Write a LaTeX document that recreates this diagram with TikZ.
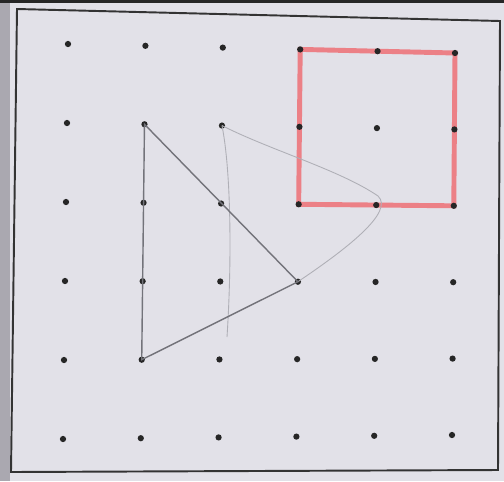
\documentclass[tikz,border=0pt]{standalone}
\usetikzlibrary{calc}
\definecolor{paper}{RGB}{226,225,232}
\definecolor{edge}{RGB}{170,168,176}
\definecolor{marker}{RGB}{236,128,134}
\definecolor{pencil}{RGB}{115,115,122}
\definecolor{faint}{RGB}{175,175,182}

\begin{document}
\begin{tikzpicture}[
    x=0.02cm, y=-0.02cm,
    dot/.style={circle, fill=black!85, inner sep=0pt, minimum size=1.25mm},
    frame/.style={draw=black!80, line width=1.1pt},
    redline/.style={draw=marker, line width=2.8pt, line join=miter},
    pencilline/.style={draw=pencil, line width=0.8pt},
    faintline/.style={draw=faint, line width=0.5pt}
]
\useasboundingbox (0,0) rectangle (504,481);
\fill[paper] (0,0) rectangle (504,481);
\fill[edge] (0,0) rectangle (10,481);
\fill[black!85] (0,0) rectangle (504,3);

% sheet border
\coordinate (f1) at (17,9);
\coordinate (f2) at (500,21);
\coordinate (f3) at (498,470);
\coordinate (f4) at (11,472);
\draw[frame] (f1) -- (f2) -- (f3) -- (f4) -- cycle;

% corner dots of the grid
\coordinate (TL) at (68,44);
\coordinate (TR) at (455,53);
\coordinate (BL) at (63,439);
\coordinate (BR) at (452,435);

% red square
\draw[redline] ($(TL)!3/5!(TR)$) -- (TR) -- ($(TR)!2/5!(BR)$)
    -- ($($(TL)!3/5!(TR)$)!2/5!($(BL)!3/5!(BR)$)$) -- cycle;

\foreach \i in {0,...,5} {
  \foreach \j in {0,...,5} {
    \node[dot] (d\i\j) at ($($(TL)!\i/5!(TR)$)!\j/5!($(BL)!\i/5!(BR)$)$) {};
  }
}

% faint pencil traces
\coordinate (tail) at (227,337);
\draw[faintline] (d21.center) .. controls (231,170) and (232,260) .. (tail);
\draw[faintline] (d21.center) .. controls (270,150) and (340,170) .. (378,196)
    .. controls (395,212) and (345,250) .. (d33.center);

% triangle
\draw[pencilline] (d11.center) -- (d33.center) -- (d14.center) -- cycle;
\end{tikzpicture}
\end{document}
